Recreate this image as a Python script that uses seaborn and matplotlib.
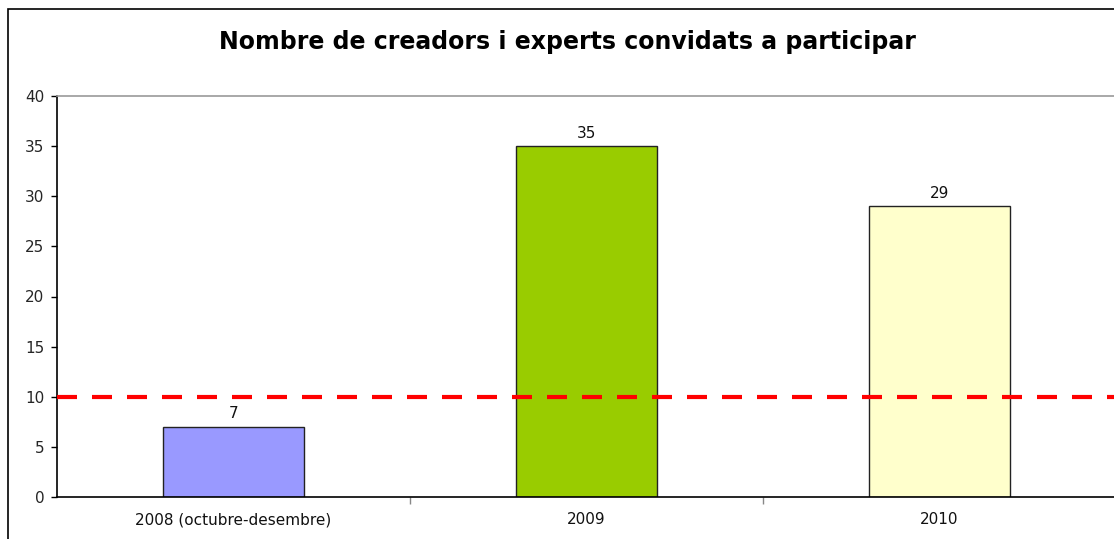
import pandas as pd
import seaborn as sns
import matplotlib.pyplot as plt
from matplotlib.patches import Rectangle

sns.set_theme(style="white")
plt.rcParams['font.family'] = ['DejaVu Sans']

categories = ["2008 (octubre-desembre)", "2009", "2010"]
values = [7, 35, 29]
colors = ["#9999FF", "#99CC00", "#FFFFCC"]
threshold = 10
title = "Nombre de creadors i experts convidats a participar"

df = pd.DataFrame({"periode": categories, "valor": values})

fig = plt.figure(figsize=(11.14, 5.39), dpi=100)
ax = fig.add_axes([57 / 1114, 42 / 539, 1059 / 1114, 401 / 539])

sns.barplot(
    ax=ax,
    data=df,
    x="periode",
    y="valor",
    hue="periode",
    palette=colors,
    legend=False,
    width=0.4,
    edgecolor="#222222",
    linewidth=1.0,
    saturation=1,
)

# dashed reference line at 10
ax.axhline(threshold, color="#FF0000", lw=3, dashes=(4.8, 3.6), zorder=5, clip_on=False)

for i, v in enumerate(values):
    ax.annotate(str(v), (i, v), xytext=(0, 4), textcoords="offset points",
                ha="center", va="bottom", fontsize=11, color="#111111")

ax.set_xlim(-0.5, 2.5)
ax.set_ylim(0, 40)
ax.set_yticks(range(0, 41, 5))
ax.set_xlabel("")
ax.set_ylabel("")
ax.tick_params(axis="y", which="both", direction="out", length=4, width=1, color="black",
               labelsize=11, pad=5, left=True)
ax.tick_params(axis="x", which="major", length=0, labelsize=11, pad=11, labelcolor="#111111")
ax.set_xticks([0.5, 1.5], minor=True)
ax.tick_params(axis="x", which="minor", direction="out", length=5, width=1, color="#888888", bottom=True)

for side in ["left", "bottom"]:
    ax.spines[side].set_color("black")
    ax.spines[side].set_linewidth(1.2)
ax.spines["top"].set_color("#999999")
ax.spines["top"].set_linewidth(1.2)
ax.spines["right"].set_visible(False)

fig.text(567 / 1114, 1 - 42 / 539, title, ha="center", va="center",
         fontsize=17, fontweight="bold", color="black")

# outer chart border
fig.patches.append(Rectangle((8 / 1114, -0.1), 1.2, 1 - 9 / 539 + 0.1, transform=fig.transFigure,
                             fill=False, edgecolor="black", lw=1.2, zorder=10))

fig.savefig("out.png", dpi=100)
